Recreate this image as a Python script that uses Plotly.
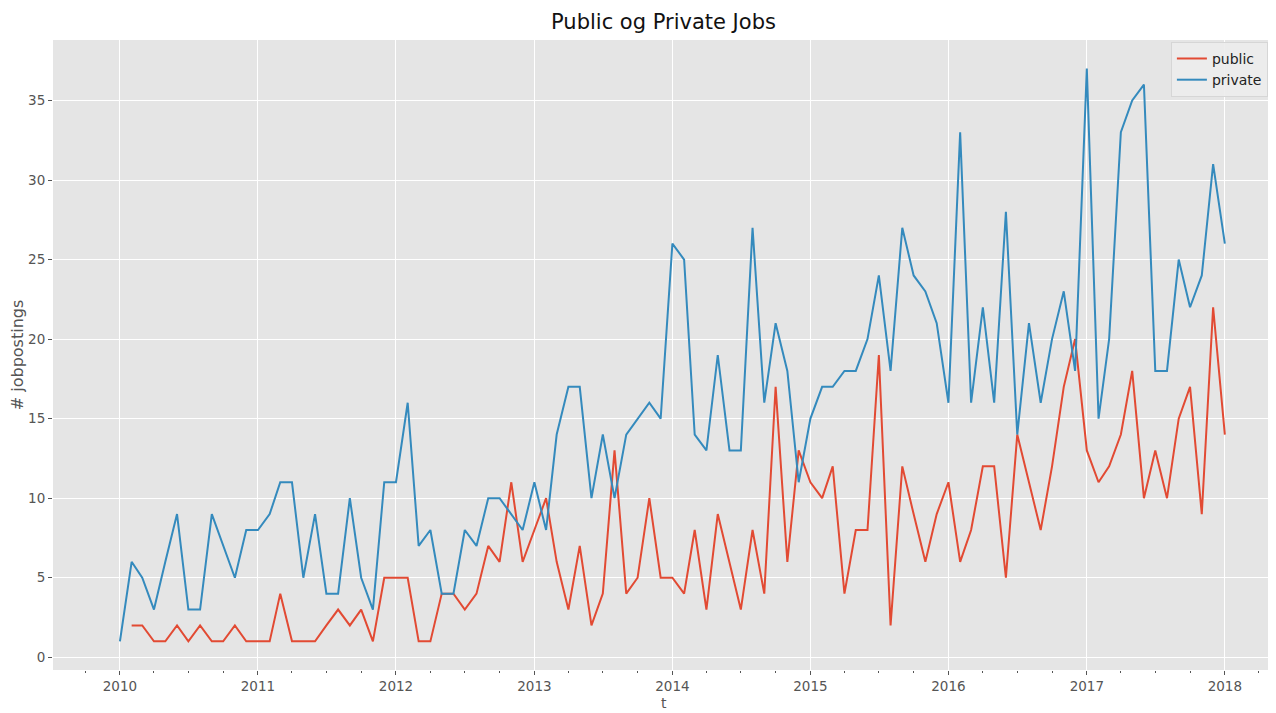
import pandas as pd
import plotly.graph_objects as go

# Monthly job postings
private_start = "2010-01-01"
public_start = "2010-02-01"

private_values = [
    1, 6, 5, 3, 6, 9, 3, 3, 9, 7, 5, 8,          # 2010
    8, 9, 11, 11, 5, 9, 4, 4, 10, 5, 3, 11,      # 2011
    11, 16, 7, 8, 4, 4, 8, 7, 10, 10, 9, 8,      # 2012
    11, 8, 14, 17, 17, 10, 14, 10, 14, 15, 16, 15,  # 2013
    26, 25, 14, 13, 19, 13, 13, 27, 16, 21, 18, 11,  # 2014
    15, 17, 17, 18, 18, 20, 24, 18, 27, 24, 23, 21,  # 2015
    16, 33, 16, 22, 16, 28, 14, 21, 16, 20, 23, 18,  # 2016
    37, 15, 20, 33, 35, 36, 18, 18, 25, 22, 24, 31,  # 2017
    26,                                            # 2018
]

public_values = [
    2, 2, 1, 1, 2, 1, 2, 1, 1, 2, 1,             # 2010 (Feb-Dec)
    1, 1, 4, 1, 1, 1, 2, 3, 2, 3, 1, 5,          # 2011
    5, 5, 1, 1, 4, 4, 3, 4, 7, 6, 11, 6,         # 2012
    8, 10, 6, 3, 7, 2, 4, 13, 4, 5, 10, 5,       # 2013
    5, 4, 8, 3, 9, 6, 3, 8, 4, 17, 6, 13,        # 2014
    11, 10, 12, 4, 8, 8, 19, 2, 12, 9, 6, 9,     # 2015
    11, 6, 8, 12, 12, 5, 14, 11, 8, 12, 17, 20,  # 2016
    13, 11, 12, 14, 18, 10, 13, 10, 15, 17, 9, 22,  # 2017
    14,                                            # 2018
]

year_ticks = ["2010", "2011", "2012", "2013", "2014", "2015", "2016", "2017", "2018"]
y_ticks = [0, 5, 10, 15, 20, 25, 30, 35]

private_dates = pd.date_range(private_start, periods=len(private_values), freq="MS")
public_dates = pd.date_range(public_start, periods=len(public_values), freq="MS")

FONT = "DejaVu Sans"
TICK_COLOR = "#555555"

# The page body has an 8px default margin; size the figure so it fits the window.
W, H = 1268, 705
M_L, M_R, M_T, M_B = 45, 2, 32, 43
plot_h = H - M_T - M_B

fig = go.Figure()
fig.add_trace(go.Scatter(x=public_dates, y=public_values, mode="lines", name="public",
                         line=dict(color="#E24A33", width=2)))
fig.add_trace(go.Scatter(x=private_dates, y=private_values, mode="lines", name="private",
                         line=dict(color="#348ABD", width=2)))

fig.update_layout(
    width=W, height=H,
    margin=dict(l=M_L, r=M_R, t=M_T, b=M_B, autoexpand=False),
    paper_bgcolor="white",
    plot_bgcolor="#E5E5E5",
    font=dict(family=FONT, size=13, color=TICK_COLOR),
    title=dict(text="Public og Private Jobs", xref="paper", x=0.5, xanchor="center",
               yref="container", y=1 - 14 / H, yanchor="middle", automargin=False,
               font=dict(family=FONT, size=21, color="#111111")),
    showlegend=True,
    legend=dict(x=0.995, y=0.997, xanchor="right", yanchor="top",
                bgcolor="rgba(236,236,236,0.9)", bordercolor="#d6d6d6", borderwidth=1,
                itemwidth=30,
                font=dict(family=FONT, size=14, color="#222222")),
    xaxis=dict(
        range=["2009-07-08", "2018-05-11"],
        tickvals=[pd.Timestamp(y + "-01-01") for y in year_ticks],
        ticktext=year_ticks,
        automargin=False,
        showgrid=True, gridcolor="white", gridwidth=1.2,
        zeroline=False, showline=False,
        ticks="outside", ticklen=4, tickcolor=TICK_COLOR,
        tickfont=dict(family=FONT, size=13.5, color=TICK_COLOR),
        minor=dict(dtick="M3", tick0="2010-01-01", ticks="outside", ticklen=2,
                   tickcolor=TICK_COLOR, showgrid=False),
    ),
    yaxis=dict(
        range=[-0.8, 38.8],
        tickvals=y_ticks,
        automargin=False,
        showgrid=True, gridcolor="white", gridwidth=1.2,
        zeroline=False, showline=False,
        ticks="outside", ticklen=4, tickcolor=TICK_COLOR,
        tickfont=dict(family=FONT, size=13.5, color=TICK_COLOR),
        title=dict(text="# jobpostings", font=dict(family=FONT, size=16, color=TICK_COLOR), standoff=8),
    ),
    annotations=[
        dict(text="t", xref="paper", yref="paper", x=0.5, y=-33 / plot_h,
             xanchor="center", yanchor="middle", showarrow=False,
             font=dict(family=FONT, size=14, color=TICK_COLOR)),
    ],
)

fig.write_html("out.html")
